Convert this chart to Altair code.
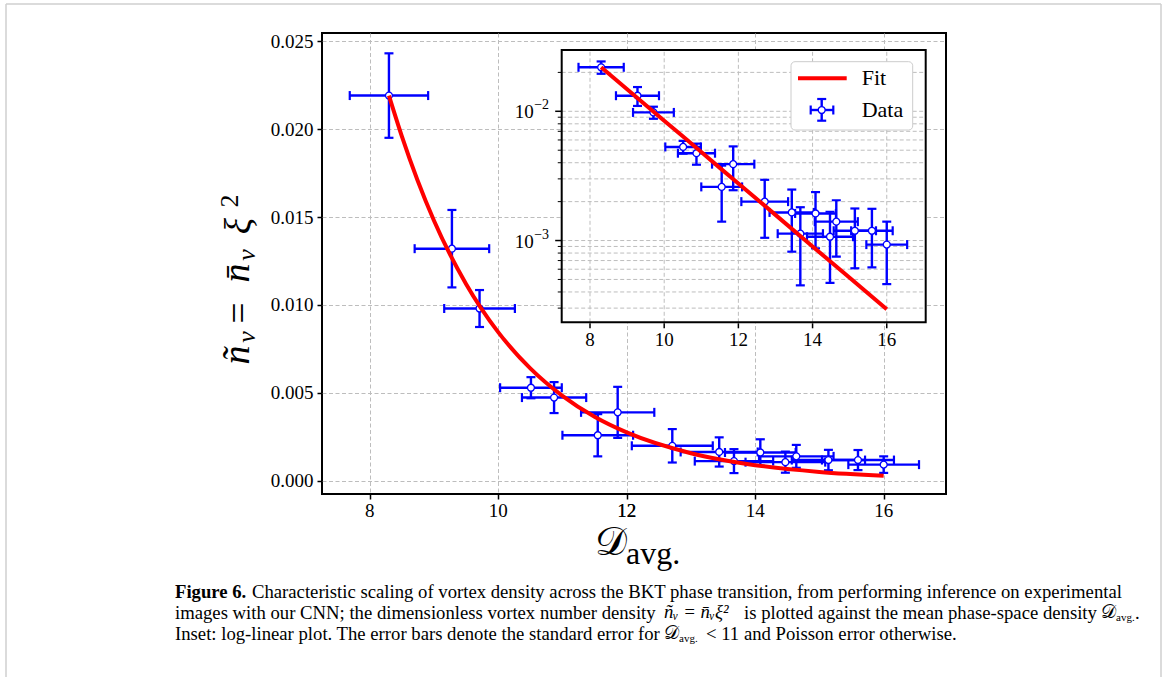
import altair as alt
import pandas as pd

# ---------------- data ----------------
D_avg = [8.30, 9.28, 9.71, 10.51, 10.87, 11.55, 11.86, 12.71,
         13.44, 13.67, 14.08, 14.47, 14.64, 15.14, 15.60, 16.00]
D_err = [0.61, 0.58, 0.55, 0.48, 0.50, 0.55, 0.57, 0.63,
         0.60, 0.61, 0.55, 0.62, 0.58, 0.57, 0.56, 0.55]
n_tilde = [0.0219, 0.0132, 0.0098, 0.0053, 0.00474, 0.0026, 0.0039, 0.0020,
           0.00165, 0.00113, 0.00162, 0.00107, 0.00140, 0.00119, 0.00119, 0.00093]
n_err = [0.0024, 0.0022, 0.00105, 0.0006, 0.00088, 0.0012, 0.00145, 0.00095,
         0.00083, 0.00068, 0.00075, 0.0006, 0.00065, 0.00058, 0.00057, 0.00047]

fit_D = [8.3, 8.5, 9.0, 9.5, 10.0, 10.5, 11.0, 11.5, 12.0, 13.0, 14.0, 15.0, 16.0]
fit_n = [0.0219, 0.0196, 0.0148, 0.0112, 0.00846, 0.0064, 0.00484, 0.00365,
         0.00276, 0.00158, 0.00090, 0.000515, 0.000294]

main_x_ticks = [8.0, 10.0, 12.0, 14.0, 16.0]
main_x_labels = ["8", "10", "12", "14", "16"]
main_y_ticks = [0.0, 0.005, 0.010, 0.015, 0.020, 0.025]
inset_x_ticks = [8, 10, 12, 14, 16]
inset_major = [0.001, 0.01]
inset_major_exp = ["\u22123", "\u22122"]
inset_minor = [0.0003, 0.0004, 0.0005, 0.0006, 0.0007, 0.0008, 0.0009,
               0.002, 0.003, 0.004, 0.005, 0.006, 0.007, 0.008, 0.009, 0.02]

# ---------------- styling / layout ----------------
SERIF = "Liberation Serif"
BLUE = "#0000ff"
GRID = "#bdbdbd"
DASH = [4, 2.5]
W, H = 624, 461                  # main plot area
PAD = {"left": 322, "top": 33, "right": 1168 - 322 - W, "bottom": 677 - 33 - H}

XD = [7.258, 16.97]
YD = [-0.000739, 0.025455]
IXD = [7.237, 17.05]
IYD = [0.000233, 0.0298]
IX_RANGE = [239.7, 603.7]
IY_RANGE = [289.3, 17.0]

df = pd.DataFrame({"D": D_avg, "Derr": D_err, "n": n_tilde, "nerr": n_err})
df["Dlo"] = df["D"] - df["Derr"]
df["Dhi"] = df["D"] + df["Derr"]
df["nlo"] = df["n"] - df["nerr"]
df["nhi"] = df["n"] + df["nerr"]
fit_df = pd.DataFrame({"D": fit_D, "n": fit_n})
one = pd.DataFrame({"k": [0]})

xs = alt.Scale(domain=XD, nice=False, zero=False)
ys = alt.Scale(domain=YD, nice=False, zero=False)
ixs = alt.Scale(domain=IXD, range=IX_RANGE, nice=False, zero=False)
iys = alt.Scale(type="log", domain=IYD, range=IY_RANGE, nice=False)

common_axis = dict(title=None, grid=True, gridColor=GRID, gridDash=DASH, gridWidth=1,
                   domain=False, ticks=True, tickColor="black", tickSize=5, tickWidth=1.5,
                   labelFont=SERIF, labelFontSize=19, labelColor="black",
                   labelOverlap=False, labelBound=False, labelFlush=False)
x_axis = alt.Axis(values=main_x_ticks, labels=False, **common_axis)
y_axis = alt.Axis(values=main_y_ticks, format=".3f", labelPadding=4, **common_axis)


def MX(f):
    return alt.X(f, type="quantitative", scale=xs, axis=x_axis)


def MY(f):
    return alt.Y(f, type="quantitative", scale=ys, axis=y_axis)


def IX(f):
    return alt.X(f, type="quantitative", scale=ixs, axis=None)


def IY(f):
    return alt.Y(f, type="quantitative", scale=iys, axis=None)


def txt(s, x, y, size, angle=0, style="normal", weight="normal", align="left",
        baseline="middle", font=SERIF):
    return alt.Chart(one).mark_text(
        text=s, fontSize=size, angle=angle, fontStyle=style, fontWeight=weight,
        align=align, baseline=baseline, font=font, color="black"
    ).encode(x=alt.value(x), y=alt.value(y))


def errorbars(X, Y):
    b = alt.Chart(df)
    hbar = b.mark_rule(color=BLUE, strokeWidth=2.4).encode(x=X("Dlo"), x2="Dhi", y=Y("n"))
    vbar = b.mark_rule(color=BLUE, strokeWidth=2.4).encode(x=X("D"), y=Y("nlo"), y2="nhi")
    capL = b.mark_tick(orient="vertical", size=9, thickness=2.2, color=BLUE, opacity=1).encode(x=X("Dlo"), y=Y("n"))
    capR = b.mark_tick(orient="vertical", size=9, thickness=2.2, color=BLUE, opacity=1).encode(x=X("Dhi"), y=Y("n"))
    capB = b.mark_tick(orient="horizontal", size=9, thickness=2.2, color=BLUE, opacity=1).encode(x=X("D"), y=Y("nlo"))
    capT = b.mark_tick(orient="horizontal", size=9, thickness=2.2, color=BLUE, opacity=1).encode(x=X("D"), y=Y("nhi"))
    pts = b.mark_point(shape="circle", filled=True, fill="white", stroke=BLUE, strokeWidth=1.3,
                       size=48, opacity=1).encode(x=X("D"), y=Y("n"))
    return [hbar, vbar, capL, capR, capB, capT, pts]


# ---------------- main panel ----------------
main_err = errorbars(MX, MY)
main_fit = alt.Chart(fit_df).mark_line(color="red", strokeWidth=4, interpolate="monotone").encode(
    x=MX("D"), y=MY("n"))
main = alt.layer(*main_err, main_fit)

# x tick labels of the main panel, drawn last, on the same x mapping
main_xlab = alt.Chart(pd.DataFrame({"pos": main_x_ticks, "txt": main_x_labels})).mark_text(
    font=SERIF, fontSize=19, baseline="middle", align="center", color="black").encode(
    x=alt.X("pos", type="quantitative", scale=xs, axis=None), y=alt.value(H + 17), text="txt:N")
# extra copy of the "12" label at the same place (it did not show up in earlier renders)
x12 = (12 - XD[0]) / (XD[1] - XD[0]) * W
lab12 = txt("12", x12, H + 17, 19, align="center")

# ---------------- inset panel ----------------
box = pd.DataFrame({"x0": [IXD[0]], "x1": [IXD[1]], "y0": [IYD[0]], "y1": [IYD[1]]})
inset_bg = alt.Chart(box).mark_rect(fill="white", stroke="white").encode(
    x=IX("x0"), x2="x1", y=IY("y0"), y2="y1")
vgrid = alt.Chart(pd.DataFrame({"t": inset_x_ticks})).mark_rule(
    color=GRID, strokeDash=DASH, strokeWidth=1).encode(
    x=IX("t"), y=alt.Y(datum=IYD[0], scale=iys, axis=None), y2=alt.datum(IYD[1]))
hgrid = alt.Chart(pd.DataFrame({"t": inset_major + inset_minor})).mark_rule(
    color=GRID, strokeDash=DASH, strokeWidth=1).encode(
    y=IY("t"), x=alt.X(datum=IXD[0], scale=ixs, axis=None), x2=alt.datum(IXD[1]))
inset_err = errorbars(IX, IY)
inset_fit = alt.Chart(fit_df).mark_line(color="red", strokeWidth=4).encode(x=IX("D"), y=IY("n"))
inset_frame = alt.Chart(box).mark_rect(fillOpacity=0, stroke="black", strokeWidth=2).encode(
    x=IX("x0"), x2="x1", y=IY("y0"), y2="y1")
ixt = pd.DataFrame({"t": inset_x_ticks, "lab": [str(v) for v in inset_x_ticks]})
ix_ticks = alt.Chart(ixt).mark_tick(orient="vertical", size=5, thickness=1.5, color="black",
                                     opacity=1, yOffset=3.5).encode(
    x=IX("t"), y=alt.Y(datum=IYD[0], scale=iys, axis=None))
ix_labels = alt.Chart(ixt).mark_text(font=SERIF, fontSize=19, baseline="top", dy=9,
                                     color="black").encode(
    x=IX("t"), y=alt.Y(datum=IYD[0], scale=iys, axis=None), text="lab:N")
iyt = pd.DataFrame({"t": inset_major, "e": inset_major_exp})
iy_major = alt.Chart(iyt).mark_tick(orient="horizontal", size=6, thickness=1.5, color="black",
                                     opacity=1, xOffset=-3.5).encode(
    y=IY("t"), x=alt.X(datum=IXD[0], scale=ixs, axis=None))
iy_minor = alt.Chart(pd.DataFrame({"t": inset_minor})).mark_tick(
    orient="horizontal", size=3.5, thickness=1, color="black", opacity=1, xOffset=-2.2).encode(
    y=IY("t"), x=alt.X(datum=IXD[0], scale=ixs, axis=None))
iy_lab10 = alt.Chart(iyt).mark_text(text="10", font=SERIF, fontSize=19, align="right",
                                    baseline="middle", dx=-28, dy=1, color="black").encode(
    y=IY("t"), x=alt.X(datum=IXD[0], scale=ixs, axis=None))
iy_labexp = alt.Chart(iyt).mark_text(font=SERIF, fontSize=14, align="left",
                                     baseline="middle", dx=-27.5, dy=-6, color="black").encode(
    y=IY("t"), x=alt.X(datum=IXD[0], scale=ixs, axis=None), text="e:N")

# legend (inside inset, upper right)
leg = [
    alt.Chart(one).mark_rect(fill="white", stroke="#cccccc", strokeWidth=1, cornerRadius=4).encode(
        x=alt.value(469), x2=alt.value(590.7), y=alt.value(28.7), y2=alt.value(97)),
    alt.Chart(one).mark_rule(color="red", strokeWidth=4).encode(
        x=alt.value(476), x2=alt.value(524.7), y=alt.value(45.3)),
    alt.Chart(one).mark_rule(color=BLUE, strokeWidth=2.4).encode(
        x=alt.value(488.7), x2=alt.value(511.3), y=alt.value(77)),
    alt.Chart(one).mark_rule(color=BLUE, strokeWidth=2.4).encode(
        x=alt.value(499.7), y=alt.value(66), y2=alt.value(87.7)),
    alt.Chart(one).mark_tick(orient="vertical", size=9, thickness=2.2, color=BLUE, opacity=1).encode(
        x=alt.value(488.7), y=alt.value(77)),
    alt.Chart(one).mark_tick(orient="vertical", size=9, thickness=2.2, color=BLUE, opacity=1).encode(
        x=alt.value(511.3), y=alt.value(77)),
    alt.Chart(one).mark_tick(orient="horizontal", size=9, thickness=2.2, color=BLUE, opacity=1).encode(
        x=alt.value(499.7), y=alt.value(66)),
    alt.Chart(one).mark_tick(orient="horizontal", size=9, thickness=2.2, color=BLUE, opacity=1).encode(
        x=alt.value(499.7), y=alt.value(87.7)),
    alt.Chart(one).mark_point(shape="circle", filled=True, fill="white", stroke=BLUE, strokeWidth=1.3,
                              size=48, opacity=1).encode(x=alt.value(499.7), y=alt.value(77)),
    txt("Fit", 539.7, 45.3, 22),
    txt("Data", 539.7, 77, 22),
]

inset = alt.layer(inset_bg, vgrid, hgrid, *inset_err, inset_fit, inset_frame,
                  ix_ticks, ix_labels, iy_major, iy_minor, iy_lab10, iy_labexp, *leg)

# ---------------- titles, caption, page frame ----------------
ytitle = [
    txt("\u00f1", -84, 322, 38, angle=270, style="italic", align="center"),
    txt("v", -75, 304, 26, angle=270, style="italic", align="center"),
    txt("=", -82, 280, 38, angle=270, align="center"),
    txt("n\u0304", -84, 240, 38, angle=270, style="italic", align="center"),
    txt("v", -75, 222, 26, angle=270, style="italic", align="center"),
    txt("\u03be", -82, 193, 38, angle=270, style="italic", align="center"),
    txt("2", -92, 168, 26, angle=270, align="center"),
]
xtitle = [
    txt("\U0001D49F", 289, 510, 40, align="center"),
    txt("avg.", 304, 521, 32),
]
CAP = 18.7
L1, L2, L3 = 559, 580, 601
caption = [
    txt("Figure 6.", -147, L1, CAP, weight="bold"),
    txt("Characteristic scaling of vortex density across the BKT phase transition, from performing inference on experimental",
        -70, L1, CAP),
    txt("images with our CNN; the dimensionless vortex number density", -147, L2, CAP),
    txt("\u00f1\u1d65 = n\u0304\u1d65\u03be\u00b2", 342, L2 - 1, CAP, style="italic"),
    txt("is plotted against the mean phase-space density", 422, L2, CAP),
    txt("\U0001D49F", 779, L2 - 1, CAP),
    txt("avg.", 794, L2 + 5, 11),
    txt(".", 813, L2, CAP),
    txt("Inset: log-linear plot. The error bars denote the standard error for", -147, L3, CAP),
    txt("\U0001D49F", 342, L3 - 1, CAP),
    txt("avg.", 357, L3 + 5, 11),
    txt("< 11 and Poisson error otherwise.", 384, L3, CAP),
]
FR = "#cfcfcf"
frame = [
    alt.Chart(one).mark_rule(color=FR, strokeWidth=1.5).encode(
        x=alt.value(6 - 322), x2=alt.value(1161 - 322), y=alt.value(4 - 33)),
    alt.Chart(one).mark_rule(color=FR, strokeWidth=1.5).encode(
        x=alt.value(6 - 322), y=alt.value(4 - 33), y2=alt.value(677 - 33)),
    alt.Chart(one).mark_rule(color=FR, strokeWidth=1.5).encode(
        x=alt.value(1161 - 322), y=alt.value(4 - 33), y2=alt.value(677 - 33)),
]

chart = alt.layer(*xtitle, main, inset, *ytitle, *caption, *frame, main_xlab, lab12).resolve_scale(
    x="independent", y="independent"
).properties(
    width=W, height=H, padding=PAD, background="white",
    autosize=alt.AutoSizeParams(type="none"),
).configure_view(stroke="black", strokeWidth=2)

chart.save("out.html", embed_options={"renderer": "svg", "actions": False})
